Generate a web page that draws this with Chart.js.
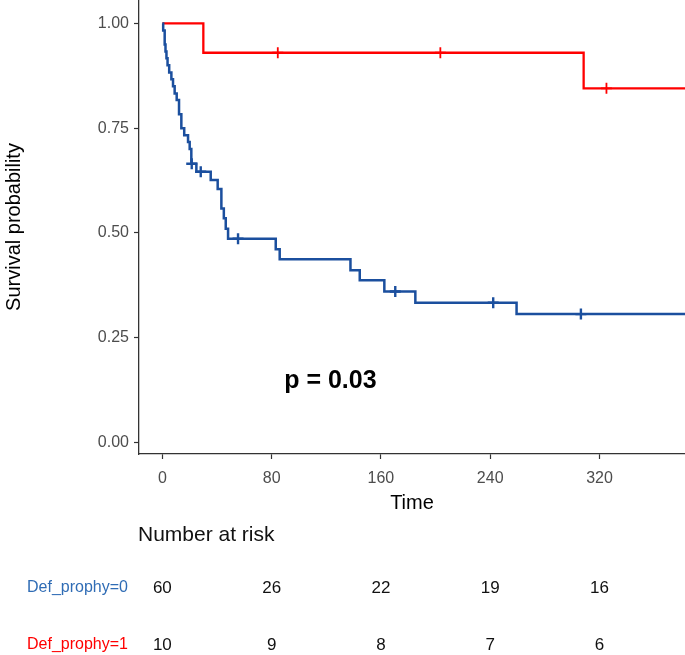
<!DOCTYPE html>
<html>
<head>
<meta charset="utf-8">
<script src="https://cdn.jsdelivr.net/npm/chart.js"></script>
<style>
  body { margin: 0; background: #fff; }
  #wrap { width: 685px; height: 655px; position: relative; }
</style>
</head>
<body>
<div id="wrap"><canvas id="kmChart"></canvas></div>
<script>
// Kaplan-Meier steps
var blueTime = [0, 0.6, 1.7, 2.3, 3.0, 3.8, 5.0, 6.6, 7.8, 9.0, 10.5, 12.2, 13.9, 16.0, 18.8, 20.0, 21.2, 24.9, 35.4, 40.5, 43.2, 45.0, 46.4, 48.1, 83.0, 85.9, 137.7, 144.5, 162.5, 185.2, 259.3, 382.6];
var blueSurv = [1.000, 0.983, 0.950, 0.933, 0.917, 0.900, 0.883, 0.867, 0.850, 0.833, 0.817, 0.783, 0.750, 0.733, 0.717, 0.700, 0.665, 0.646, 0.626, 0.605, 0.558, 0.535, 0.510, 0.486, 0.461, 0.437, 0.411, 0.387, 0.360, 0.333, 0.306, 0.306];
var blueCensorTime = [21.5, 28.1, 55.4, 170.5, 242.2, 306.4];
var blueCensorSurv = [0.665, 0.646, 0.486, 0.360, 0.333, 0.306];

var redTime = [0, 30.0, 308.4, 382.6];
var redSurv = [1.000, 0.930, 0.845, 0.845];
var redCensorTime = [84.5, 203.5, 325.1];
var redCensorSurv = [0.930, 0.930, 0.845];

var xTicks = [0, 80, 160, 240, 320];
var yTicks = [0, 0.25, 0.5, 0.75, 1];

var riskTimes = [0, 80, 160, 240, 320];
var riskGroup0 = [60, 26, 22, 19, 16];
var riskGroup1 = [10, 9, 8, 7, 6];
var groupLabels = ["Def_prophy=0", "Def_prophy=1"];
var pValueText = "p = 0.03";

var blueCol = "#1B4F9E";
var redCol = "#FF0000";
var fontFam = '"Liberation Sans", Arial, sans-serif';

function toPoints(xs, ys) {
  return xs.map(function (v, i) { return { x: v, y: ys[i] }; });
}

var riskTablePlugin = {
  id: 'riskTable',
  afterDraw: function (chart) {
    var ctx = chart.ctx;
    var xs = chart.scales.x, ys = chart.scales.y;
    ctx.save();
    // p value inside the plot
    ctx.font = 'bold 25px ' + fontFam;
    ctx.fillStyle = '#000';
    ctx.textAlign = 'center';
    ctx.textBaseline = 'middle';
    ctx.fillText(pValueText, xs.getPixelForValue(123), ys.getPixelForValue(0.146));

    // number at risk table
    ctx.font = '21px ' + fontFam;
    ctx.textAlign = 'left';
    ctx.fillStyle = '#111';
    ctx.fillText('Number at risk', 138, 535);

    var rows = [riskGroup0, riskGroup1];
    var rowY = [588, 645];
    var rowCol = ['#2F6CB5', redCol];
    rows.forEach(function (row, r) {
      ctx.font = '16px ' + fontFam;
      ctx.textAlign = 'left';
      ctx.fillStyle = rowCol[r];
      ctx.fillText(groupLabels[r], 27, rowY[r]);
      ctx.font = '17px ' + fontFam;
      ctx.textAlign = 'center';
      ctx.fillStyle = '#111';
      row.forEach(function (n, i) {
        ctx.fillText(String(n), xs.getPixelForValue(riskTimes[i]), rowY[r]);
      });
    });
    ctx.restore();
  }
};

new Chart(document.getElementById('kmChart'), {
  type: 'line',
  data: {
    datasets: [
      {
        label: groupLabels[0],
        data: toPoints(blueTime, blueSurv),
        borderColor: blueCol,
        borderWidth: 2.5,
        stepped: 'before',
        pointRadius: 0,
        fill: false
      },
      {
        label: groupLabels[1],
        data: toPoints(redTime, redSurv),
        borderColor: redCol,
        borderWidth: 2.3,
        stepped: 'before',
        pointRadius: 0,
        fill: false
      },
      {
        label: 'censor0',
        data: toPoints(blueCensorTime, blueCensorSurv),
        showLine: false,
        pointStyle: 'cross',
        pointRadius: 5.5,
        pointBorderWidth: 2.4,
        borderColor: blueCol
      },
      {
        label: 'censor1',
        data: toPoints(redCensorTime, redCensorSurv),
        showLine: false,
        pointStyle: 'cross',
        pointRadius: 5.5,
        pointBorderWidth: 1.8,
        borderColor: redCol
      }
    ]
  },
  options: {
    responsive: true,
    maintainAspectRatio: false,
    animation: false,
    layout: { autoPadding: false, padding: { left: 0, right: 0, top: 0, bottom: 139 } },
    plugins: {
      legend: { display: false },
      tooltip: { enabled: false }
    },
    scales: {
      x: {
        type: 'linear',
        min: -17.1,
        max: 382.6,
        afterBuildTicks: function (s) { s.ticks = xTicks.map(function (v) { return { value: v }; }); },
        afterFit: function (s) { s.height = 62; s.paddingLeft = 0; s.paddingRight = 0; },
        ticks: {
          color: '#4D4D4D',
          font: { family: fontFam, size: 16 },
          padding: 10,
          maxRotation: 0,
          autoSkip: false
        },
        grid: { drawOnChartArea: false, drawTicks: true, tickLength: 5, tickColor: '#333', tickWidth: 1.2 },
        border: { display: true, color: '#333', width: 1.3 },
        title: {
          display: true,
          text: 'Time',
          color: '#000',
          font: { family: fontFam, size: 20 },
          padding: { top: 0, bottom: 1 }
        }
      },
      y: {
        type: 'linear',
        min: -0.028,
        max: 1.056,
        afterBuildTicks: function (s) { s.ticks = yTicks.map(function (v) { return { value: v }; }); },
        afterFit: function (s) { s.width = 139; s.paddingTop = 0; s.paddingBottom = 0; },
        ticks: {
          color: '#4D4D4D',
          font: { family: fontFam, size: 16 },
          padding: 5,
          callback: function (v) { return Number(v).toFixed(2); }
        },
        grid: { drawOnChartArea: false, drawTicks: true, tickLength: 5, tickColor: '#333', tickWidth: 1.2 },
        border: { display: true, color: '#333', width: 1.3 },
        title: {
          display: true,
          text: 'Survival probability',
          color: '#000',
          font: { family: fontFam, size: 20 },
          padding: { top: 2, bottom: 0 }
        }
      }
    }
  },
  plugins: [riskTablePlugin]
});
</script>
</body>
</html>
